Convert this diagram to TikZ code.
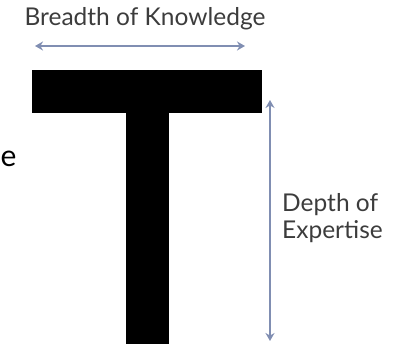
\documentclass[tikz,border=0pt]{standalone}
\usepackage{fontspec}
\setmainfont{Lato}
\usetikzlibrary{arrows.meta}
\definecolor{arrowblue}{RGB}{128,142,178}
\definecolor{labelgray}{RGB}{60,60,60}
\tikzset{
  bar/.style={fill=black, rectangle, inner sep=0pt},
  span/.style={arrowblue, line width=2.4pt, {Stealth[length=8pt,width=9pt]}-{Stealth[length=8pt,width=9pt]}},
  label/.style={text=labelgray, font=\fontsize{24.5}{27}\selectfont, inner sep=0pt}
}
\begin{document}
\begin{tikzpicture}[x=1pt,y=-1pt]
        \useasboundingbox (0,0) rectangle (398,344);
        \clip (0,0) rectangle (398,344);
        % Breadth
        \node[label] (breadth) at (145,19) {Breadth of Knowledge};
        \coordinate (bl) at (35,46);
        \coordinate (br) at (245,46);
        \draw[span] (bl) -- (br);
        
        % The T
        \node[bar, minimum width=230pt, minimum height=43pt] (top) at (147,91.5) {};
        \node[bar, minimum width=43pt, minimum height=232pt] (stem) at (147.5,228) {};
        
        % Depth
        \coordinate (dt) at (270,100);
        \coordinate (db) at (270,341);
        \draw[span] (dt) -- (db);
        \node[label, anchor=west, align=left] (depth) at (282,218) {Depth of\\Expertise};
        
        % lone letter
        \node[label, anchor=west, text=black, font=\fontsize{30}{36}\selectfont] (cut) at (0.5,159) {e};
    \end{tikzpicture}
\end{document}
